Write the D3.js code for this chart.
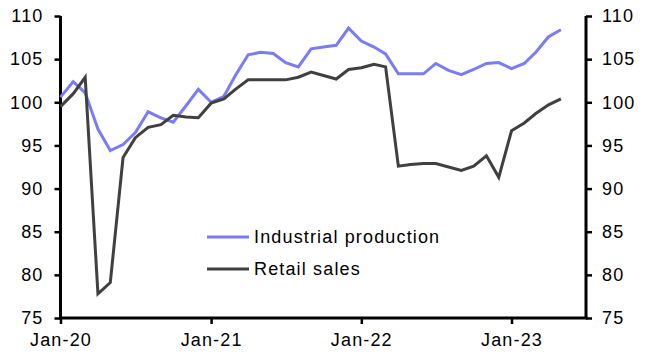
<!DOCTYPE html>
<html><head><meta charset="utf-8">
<script src="https://cdn.jsdelivr.net/npm/d3@7"></script>
<style>
body{margin:0;background:#fff;}
text{font-family:"Liberation Sans",Arial,sans-serif;}
</style></head>
<body><svg id="c" width="650" height="355"></svg>
<script>
const months = ["2020-01","2020-02","2020-03","2020-04","2020-05","2020-06","2020-07","2020-08","2020-09","2020-10","2020-11","2020-12",
"2021-01","2021-02","2021-03","2021-04","2021-05","2021-06","2021-07","2021-08","2021-09","2021-10","2021-11","2021-12",
"2022-01","2022-02","2022-03","2022-04","2022-05","2022-06","2022-07","2022-08","2022-09","2022-10","2022-11","2022-12",
"2023-01","2023-02","2023-03","2023-04","2023-05"];
const industrialProduction = [100.6,102.4,101.1,96.9,94.4,95.1,96.5,98.9,98.2,97.7,99.6,101.5,
100.0,100.7,103.1,105.5,105.8,105.65,104.6,104.1,106.2,106.4,106.6,108.6,
107.1,106.4,105.6,103.3,103.3,103.3,104.5,103.7,103.2,103.8,104.5,104.6,
103.9,104.5,105.8,107.6,108.4];
const retailSales = [99.5,101.0,102.9,77.8,79.1,93.6,95.9,97.1,97.4,98.5,98.3,98.2,
99.9,100.4,101.5,102.6,102.6,102.6,102.6,102.9,103.5,103.1,102.7,103.8,
104.0,104.4,104.1,92.6,92.8,92.9,92.9,92.5,92.1,92.6,93.8,91.3,
96.7,97.6,98.7,99.7,100.4];
const yTicks = [75,80,85,90,95,100,105,110];
const xTickLabels = ["2020-01","2021-01","2022-01","2023-01"];
const seriesNames = ["Industrial production","Retail sales"];
const seriesColors = ["#7b7bf6","#404040"];

const parse = d3.timeParse("%Y-%m");
const svg = d3.select("#c");
const L = 60.5, R = 586, T = 16, B = 318;
const x = d3.scaleTime().domain([parse("2020-01"), parse("2023-07")]).range([L, R]);
const y = d3.scaleLinear().domain([75,110]).range([B, T]);

const fontStyle = s => s.style("font-size","18px").style("letter-spacing","1.15px").style("fill","#000");

const ax = svg.append("g").attr("transform",`translate(0,${B})`)
  .call(d3.axisBottom(x).tickValues(xTickLabels.map(parse)).tickFormat(d3.timeFormat("%b-%y")).tickSize(6).tickPadding(9));
const ayL = svg.append("g").attr("transform",`translate(${L},0)`)
  .call(d3.axisLeft(y).tickValues(yTicks).tickSize(6).tickPadding(11));
const ayR = svg.append("g").attr("transform",`translate(${R},0)`)
  .call(d3.axisRight(y).tickValues(yTicks).tickSize(6).tickPadding(10));
[ax,ayL,ayR].forEach(g=>{
  g.select(".domain").attr("stroke","#000").attr("stroke-width",3);
  g.selectAll(".tick line").attr("stroke","#000").attr("stroke-width",2.5);
  g.selectAll(".tick text").call(fontStyle);
  g.attr("font-family",null).attr("font-size",null);
});
ax.select(".domain").attr("d",`M${L-1.5},0H${R+1.5}`);
ayL.select(".domain").attr("d",`M0,${T}V${B}`);
ayR.select(".domain").attr("d",`M0,${T}V${B}`);

const line = d3.line().x((d,i)=>x(parse(months[i]))).y(d=>y(d));
[industrialProduction, retailSales].forEach((s,k)=>{
  svg.append("path").datum(s).attr("d",line).attr("fill","none")
    .attr("stroke",seriesColors[k]).attr("stroke-width",3).attr("stroke-linejoin","miter");
});

const lg = svg.append("g");
seriesNames.forEach((n,k)=>{
  const yy = 237 + k*32;
  lg.append("line").attr("x1",207).attr("x2",249).attr("y1",yy).attr("y2",yy)
    .attr("stroke",seriesColors[k]).attr("stroke-width",3);
  lg.append("text").attr("x",254).attr("y",yy).attr("dy","0.35em").text(n).call(fontStyle);
});
</script></body></html>
